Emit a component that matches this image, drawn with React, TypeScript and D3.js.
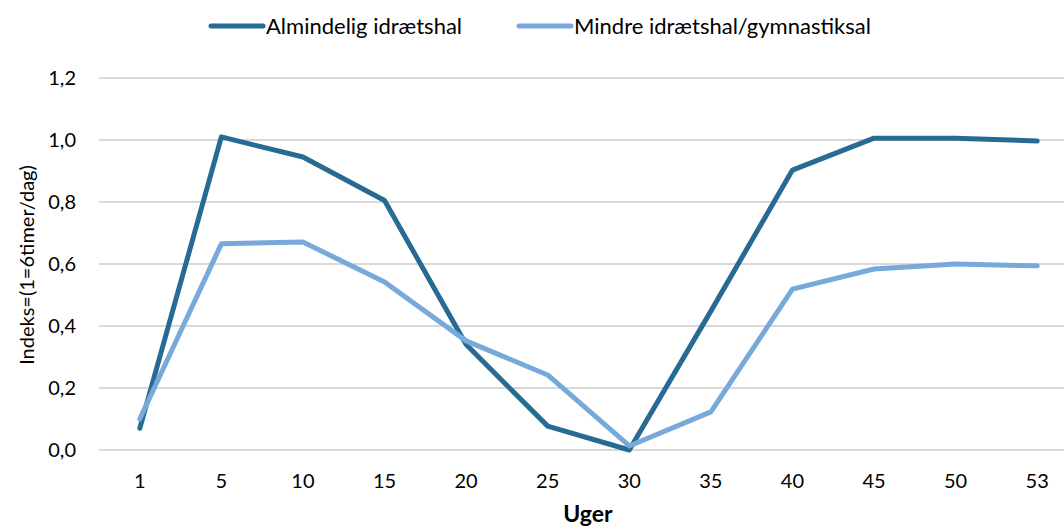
import React from 'react';
import { scaleBand, scaleLinear, line } from 'd3';

const weeks = ['1', '5', '10', '15', '20', '25', '30', '35', '40', '45', '50', '53'];
const almindelig = [0.07, 1.01, 0.945, 0.805, 0.34, 0.077, 0.0, 0.448, 0.903, 1.006, 1.006, 0.997];
const mindre = [0.1, 0.665, 0.671, 0.542, 0.352, 0.242, 0.013, 0.123, 0.519, 0.584, 0.6, 0.594];
const yTicks = [0, 0.2, 0.4, 0.6, 0.8, 1.0, 1.2];
const seriesNames = ['Almindelig idrætshal', 'Mindre idrætshal/gymnastiksal'];
const seriesColors = ['#276A94', '#77AADA'];

const W = 1064;
const H = 530;
const font = 'Lato, "Open Sans", sans-serif';

export default function App() {
  const x = scaleBand().domain(weeks).range([99, 1078]);
  const y = scaleLinear().domain([0, 1.2]).range([450, 78]);
  const cx = (w: string) => (x(w) as number) + x.bandwidth() / 2;

  const path = line<number>()
    .x((d, i) => cx(weeks[i]))
    .y((d) => y(d));

  const fmt = (v: number) => v.toFixed(1).replace('.', ',');

  return (
    <svg width={W} height={H} style={{ position: 'absolute', left: 0, top: 0, background: '#fff' }} fontFamily={font}>
      {/* gridlines */}
      {yTicks.map((t) => (
        <line key={t} x1={99} x2={1078} y1={y(t)} y2={y(t)} stroke="#D9D9D9" strokeWidth={2} />
      ))}
      {/* y tick labels */}
      {yTicks.map((t) => (
        <text key={'l' + t} x={76} y={y(t)} dy="0.35em" textAnchor="end" fontSize={20} fill="#000">
          {fmt(t)}
        </text>
      ))}
      {/* x tick labels */}
      {weeks.map((w) => (
        <text key={w} x={cx(w)} y={481} dy="0.35em" textAnchor="middle" fontSize={20} fill="#000">
          {w}
        </text>
      ))}
      {/* series */}
      {[almindelig, mindre].map((s, i) => (
        <path key={i} d={path(s) || ''} fill="none" stroke={seriesColors[i]} strokeWidth={5} strokeLinejoin="round" strokeLinecap="round" />
      ))}
      {/* axis titles */}
      <text x={588} y={522} textAnchor="middle" fontSize={23} fontWeight="bold" fill="#000">
        Uger
      </text>
      <text transform="translate(27,265) rotate(-90)" dy="0.35em" textAnchor="middle" fontSize={20} fill="#000">
        Indeks=(1=6timer/dag)
      </text>
      {/* legend */}
      {seriesNames.map((n, i) => {
        const lx = i === 0 ? 211 : 519;
        return (
          <g key={n}>
            <line x1={lx} x2={lx + 52} y1={26} y2={26} stroke={seriesColors[i]} strokeWidth={5} strokeLinecap="round" />
            <text x={lx + 55} y={26} dy="0.35em" fontSize={22} fill="#000">
              {n}
            </text>
          </g>
        );
      })}
    </svg>
  );
}
